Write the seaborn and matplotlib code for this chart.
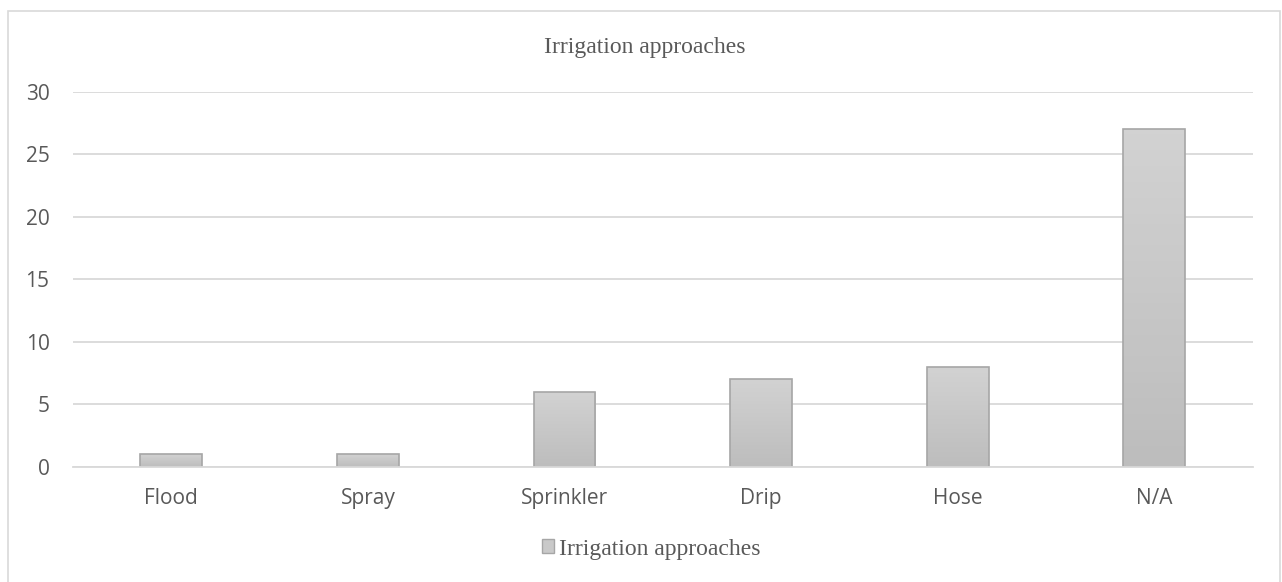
import numpy as np
import pandas as pd
import seaborn as sns
import matplotlib.pyplot as plt
from matplotlib.patches import Rectangle, Patch
from matplotlib.colors import LinearSegmentedColormap


# ----------------------------
# Data
# ----------------------------

categories = ["Flood", "Spray", "Sprinkler", "Drip", "Hose", "N/A"]
counts     = [1, 1, 6, 7, 8, 27]
series     = "Irrigation approaches"
yticks     = [0, 5, 10, 15, 20, 25, 30]

df = pd.DataFrame({"approach": categories, "count": counts})


# ----------------------------
# Figure
# ----------------------------

sns.set_style("white")
plt.rcParams["font.family"] = ["Open Sans", "DejaVu Sans"]

fig = plt.figure(figsize=(12.82, 5.82), dpi=100)
ax = fig.add_axes([0.057, 0.198, 0.920, 0.644])

sns.barplot(
    data=df, x="approach", y="count", ax=ax,
    color="#c9c9c9", edgecolor="#a6a6a6", linewidth=1.2,
    width=0.315, saturation=1,
)

# soft vertical gradient inside the bars (light top, darker bottom)
grad = LinearSegmentedColormap.from_list("g", ["#bdbdbd", "#d2d2d2"])
for bar in list(ax.patches):
    x0, y0 = bar.get_x(), bar.get_y()
    w, h = bar.get_width(), bar.get_height()
    im = ax.imshow(np.linspace(0, 1, 64).reshape(-1, 1), cmap=grad,
                   extent=[x0, x0 + w, y0, y0 + h], origin="lower",
                   aspect="auto", zorder=bar.get_zorder() + 0.1)
    im.set_clip_path(bar)
    bar.set_facecolor("none")
    bar.set_zorder(bar.get_zorder() + 0.2)

ax.set_xlim(-0.5, len(categories) - 0.5)
ax.set_ylim(0, 30)
ax.set_yticks(yticks)
ax.yaxis.grid(True, color="#d9d9d9", linewidth=1.3)
ax.set_axisbelow(True)
for s in ["top", "right", "left"]:
    ax.spines[s].set_visible(False)
ax.spines["bottom"].set_color("#d9d9d9")
ax.spines["bottom"].set_linewidth(1.3)
ax.tick_params(axis="both", length=0, labelsize=15, colors="#595959")
ax.tick_params(axis="x", pad=15)
ax.tick_params(axis="y", pad=17)
ax.set_xlabel("")
ax.set_ylabel("")

fig.text(0.503, 1 - 47 / 582, series, ha="center", va="center",
         fontsize=17, color="#595959", family="Liberation Serif")

handle = Patch(facecolor="#c9c9c9", edgecolor="#a6a6a6", label=series)
leg = fig.legend(handles=[handle], loc="center", bbox_to_anchor=(0.508, 1 - 549 / 582),
                 frameon=False, prop={"family": "Liberation Serif", "size": 17},
                 handlelength=0.5, handleheight=0.5, handletextpad=0.2)
for t in leg.get_texts():
    t.set_color("#595959")

# chart frame
fig.patches.append(Rectangle((8 / 1282, -0.01), 1 - 10 / 1282, 1 - 11 / 582 + 0.01,
                             transform=fig.transFigure, fill=False,
                             edgecolor="#d9d9d9", linewidth=1.2))

plt.savefig("out.png", dpi=100)
plt.close()
